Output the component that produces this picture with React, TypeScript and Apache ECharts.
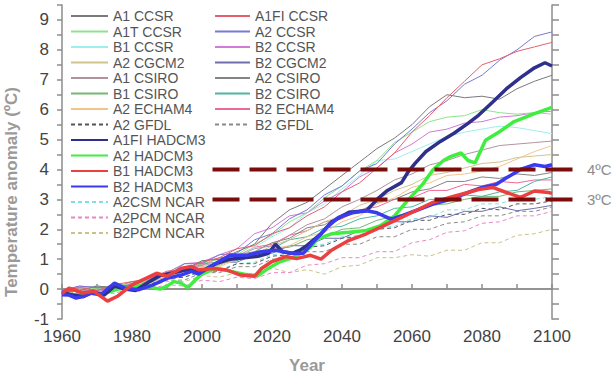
import React, { useEffect, useRef } from "react";
import * as echarts from "echarts";

const FONT = "'Liberation Sans', Arial, Helvetica, sans-serif";

// Five-yearly sampling used by the thin model runs
const YEARS = [1960, 1965, 1970, 1975, 1980, 1985, 1990, 1995, 2000, 2005, 2010, 2015, 2020, 2025, 2030, 2035, 2040, 2045, 2050, 2055, 2060, 2065, 2070, 2075, 2080, 2085, 2090, 2095, 2100];

const A1_CCSR = [-0.1, -0.05, 0.1, 0.05, 0.0, 0.3, 0.55, 0.65, 0.95, 1.0, 1.25, 1.5, 2.2, 2.65, 2.9, 3.35, 3.8, 4.25, 4.7, 5.05, 5.5, 6.1, 6.5, 6.4, 6.45, 6.35, 6.7, 6.95, 7.15];
const A1T_CCSR = [-0.1, 0.05, 0.0, 0.1, 0.2, 0.25, 0.55, 0.65, 0.85, 1.0, 1.15, 1.5, 1.8, 2.25, 2.55, 3.05, 3.45, 3.95, 4.3, 4.9, 5.25, 5.6, 5.75, 5.8, 6.0, 5.9, 5.85, 5.9, 5.85];
const B1_CCSR = [-0.1, 0.0, 0.1, -0.05, 0.1, 0.35, 0.4, 0.65, 0.7, 0.95, 1.05, 1.4, 1.75, 2.05, 2.55, 2.85, 3.35, 3.8, 4.3, 4.35, 4.6, 4.85, 5.1, 5.25, 5.35, 5.45, 5.4, 5.3, 5.2];
const A2_CGCM2 = [-0.1, 0.0, 0.05, 0.1, 0.15, 0.35, 0.4, 0.6, 0.75, 0.8, 1.05, 1.15, 1.45, 1.65, 1.95, 2.25, 2.45, 2.8, 3.0, 3.3, 3.5, 3.8, 3.9, 4.05, 4.2, 4.25, 4.4, 4.45, 4.5];
const A1_CSIRO = [-0.1, 0.05, 0.1, 0.0, 0.2, 0.25, 0.5, 0.6, 0.8, 0.85, 1.1, 1.35, 1.45, 1.8, 2.15, 2.35, 2.75, 3.0, 3.3, 3.65, 3.85, 4.15, 4.3, 4.5, 4.65, 4.8, 4.85, 4.9, 4.95];
const B1_CSIRO = [-0.1, -0.05, 0.1, 0.0, 0.15, 0.2, 0.45, 0.5, 0.75, 0.8, 1.05, 1.1, 1.35, 1.4, 1.65, 1.75, 2.0, 2.05, 2.3, 2.45, 2.55, 2.8, 2.85, 3.0, 3.1, 3.1, 3.25, 3.3, 3.35];
const A2_ECHAM4 = [-0.15, -0.05, 0.05, 0.05, 0.15, 0.2, 0.45, 0.5, 0.75, 0.75, 1.0, 1.05, 1.35, 1.45, 1.75, 1.9, 2.25, 2.45, 2.85, 3.05, 3.4, 3.55, 3.8, 3.85, 3.95, 4.1, 4.35, 4.6, 4.8];
const A2_GFDL = [-0.1, -0.05, 0.05, 0.0, 0.15, 0.15, 0.35, 0.4, 0.6, 0.6, 0.85, 0.85, 1.1, 1.15, 1.4, 1.45, 1.7, 1.75, 2.0, 2.05, 2.3, 2.3, 2.5, 2.5, 2.7, 2.65, 2.85, 2.85, 2.95];
const A2CSM_NCAR = [-0.1, 0.0, 0.1, 0.05, 0.15, 0.15, 0.4, 0.4, 0.6, 0.65, 0.85, 0.9, 1.15, 1.2, 1.45, 1.5, 1.75, 1.8, 2.05, 2.1, 2.35, 2.4, 2.65, 2.65, 2.85, 2.85, 3.05, 3.0, 3.1];
const A2PCM_NCAR = [-0.2, -0.15, -0.05, -0.15, 0.05, 0.0, 0.15, 0.1, 0.3, 0.25, 0.4, 0.35, 0.55, 0.55, 0.8, 0.85, 1.05, 1.05, 1.25, 1.25, 1.55, 1.65, 1.9, 1.95, 2.2, 2.25, 2.45, 2.45, 2.6];
const B2PCM_NCAR = [-0.15, -0.1, 0.0, -0.05, 0.1, 0.1, 0.25, 0.25, 0.45, 0.4, 0.55, 0.5, 0.7, 0.55, 0.65, 0.5, 0.75, 0.8, 1.05, 1.05, 1.15, 1.1, 1.3, 1.3, 1.55, 1.55, 1.8, 1.85, 2.0];
const A1FI_CCSR = [-0.1, 0.05, -0.05, 0.15, 0.25, 0.35, 0.6, 0.65, 0.9, 1.05, 1.35, 1.45, 1.85, 2.05, 2.45, 2.75, 3.25, 3.55, 4.05, 4.55, 5.25, 5.8, 6.4, 6.95, 7.5, 7.7, 7.95, 8.1, 8.25];
const A2_CCSR = [-0.05, 0.1, 0.05, 0.05, 0.15, 0.4, 0.55, 0.85, 0.85, 1.15, 1.2, 1.65, 1.85, 2.35, 2.65, 3.15, 3.45, 3.95, 4.2, 4.85, 5.35, 5.9, 6.3, 6.85, 7.15, 7.65, 8.0, 8.45, 8.6];
const B2_CCSR = [-0.05, 0.0, -0.1, 0.1, 0.15, 0.4, 0.45, 0.85, 0.9, 1.15, 1.35, 1.85, 2.05, 2.45, 2.55, 2.95, 3.25, 3.75, 4.05, 4.55, 4.85, 5.25, 5.35, 5.55, 5.6, 5.75, 5.8, 5.9, 5.95];
const B2_CGCM2 = [-0.1, 0.05, -0.05, 0.15, 0.1, 0.35, 0.4, 0.6, 0.65, 0.9, 0.9, 1.15, 1.2, 1.45, 1.45, 1.7, 1.7, 1.95, 2.0, 2.25, 2.25, 2.45, 2.4, 2.6, 2.6, 2.75, 2.62, 2.7, 2.8];
const A2_CSIRO = [-0.05, 0.05, 0.05, 0.05, 0.25, 0.3, 0.55, 0.6, 0.85, 0.9, 1.15, 1.25, 1.55, 1.7, 2.05, 2.15, 2.5, 2.6, 2.9, 3.0, 3.25, 3.35, 3.6, 3.6, 3.75, 3.7, 3.85, 3.8, 3.9];
const B2_CSIRO = [-0.1, 0.05, 0.0, 0.15, 0.1, 0.35, 0.4, 0.65, 0.65, 0.9, 0.95, 1.25, 1.35, 1.65, 1.75, 2.05, 2.1, 2.35, 2.45, 2.7, 2.75, 3.0, 3.0, 3.15, 3.1, 3.25, 3.3, 3.6, 3.75];
const B2_ECHAM4 = [-0.05, 0.1, 0.05, 0.1, 0.1, 0.4, 0.45, 0.75, 0.8, 1.05, 1.1, 1.4, 1.5, 1.8, 1.95, 2.25, 2.35, 2.65, 2.75, 3.0, 3.05, 3.3, 3.3, 3.5, 3.45, 3.6, 3.55, 3.65, 3.65];
const B2_GFDL = [-0.15, -0.1, 0.05, -0.05, 0.15, 0.1, 0.3, 0.3, 0.55, 0.55, 0.75, 0.75, 1.0, 1.0, 1.25, 1.25, 1.5, 1.5, 1.75, 1.75, 2.0, 2.0, 2.2, 2.25, 2.45, 2.45, 2.6, 2.6, 2.75];

// HadCM3 runs, sampled more densely
const A1FI_HADCM3_YEARS = [1960, 1963, 1966, 1969, 1972, 1975, 1978, 1981, 1985, 1988, 1992, 1996, 2000, 2004, 2008, 2012, 2016, 2019, 2021, 2023, 2026, 2028, 2030, 2034, 2037, 2042, 2047, 2050, 2053, 2057, 2059, 2061, 2064, 2068, 2072, 2076, 2079, 2083, 2087, 2091, 2095, 2098, 2100];
const A1FI_HADCM3 = [-0.1, -0.2, -0.25, -0.1, -0.2, 0.1, 0.0, -0.05, 0.25, 0.45, 0.55, 0.65, 0.6, 0.85, 1.0, 1.05, 1.1, 1.2, 1.5, 1.25, 1.2, 1.3, 1.46, 1.85, 2.24, 2.57, 2.62, 3.0, 3.3, 3.56, 3.94, 4.22, 4.6, 4.93, 5.21, 5.54, 5.81, 6.25, 6.7, 7.07, 7.4, 7.57, 7.46];

const A2_HADCM3_YEARS = [1960, 1964, 1968, 1972, 1976, 1980, 1984, 1986, 1988, 1990, 1992, 1994, 1996, 1998, 2000, 2004, 2008, 2012, 2016, 2019, 2022, 2026, 2029, 2031, 2033, 2037, 2042, 2047, 2051, 2055, 2059, 2063, 2066, 2069, 2071, 2074, 2076, 2078, 2081, 2085, 2089, 2095, 2100];
const A2_HADCM3 = [-0.15, -0.2, -0.1, -0.15, 0.0, 0.05, 0.15, 0.05, 0.0, 0.1, 0.25, 0.2, 0.05, 0.3, 0.5, 0.7, 0.6, 0.5, 0.45, 0.7, 0.9, 1.05, 1.25, 1.4, 1.68, 1.85, 1.9, 1.96, 2.12, 2.45, 3.0, 3.5, 3.99, 4.3, 4.43, 4.55, 4.3, 4.22, 4.98, 5.26, 5.59, 5.87, 6.08];

const B1_HADCM3_YEARS = [1960, 1962, 1966, 1969, 1973, 1976, 1980, 1984, 1987, 1990, 1994, 1997, 1999, 2003, 2007, 2011, 2015, 2017, 2020, 2024, 2027, 2031, 2034, 2037, 2042, 2047, 2052, 2057, 2061, 2066, 2071, 2076, 2079, 2083, 2087, 2091, 2095, 2099, 2100];
const B1_HADCM3 = [-0.15, 0.03, -0.13, -0.07, -0.4, -0.23, 0.14, 0.36, 0.53, 0.43, 0.69, 0.76, 0.64, 0.69, 0.64, 0.47, 0.43, 0.69, 0.92, 1.09, 1.02, 1.13, 1.0, 1.3, 1.63, 1.85, 2.12, 2.4, 2.62, 2.9, 3.07, 3.23, 3.33, 3.4, 3.23, 3.07, 3.28, 3.23, 3.2];

const B2_HADCM3_YEARS = [1960, 1962, 1964, 1966, 1968, 1971, 1975, 1978, 1982, 1986, 1990, 1994, 1997, 1999, 2003, 2008, 2013, 2017, 2021, 2026, 2029, 2032, 2036, 2039, 2043, 2047, 2050, 2054, 2057, 2061, 2066, 2071, 2076, 2080, 2084, 2087, 2091, 2095, 2098, 2100];
const B2_HADCM3 = [-0.19, -0.2, -0.3, -0.25, -0.13, -0.19, 0.2, 0.03, -0.02, 0.14, 0.36, 0.47, 0.59, 0.5, 0.8, 1.13, 1.13, 1.25, 1.3, 1.19, 1.2, 1.6, 2.1, 2.4, 2.55, 2.62, 2.55, 2.34, 2.45, 2.62, 2.84, 3.0, 3.23, 3.4, 3.5, 3.72, 4.0, 4.16, 4.1, 4.16];

// Warming thresholds drawn as dashed guides
const THRESHOLDS = [4, 3];
const THRESHOLD_LABELS = ["4ºC", "3ºC"];
const THRESHOLD_FROM = 2003;
const THRESHOLD_TO = 2106;

const LEGEND_LEFT = ["A1 CCSR", "A1T CCSR", "B1 CCSR", "A2 CGCM2", "A1 CSIRO", "B1 CSIRO", "A2 ECHAM4", "A2 GFDL", "A1FI HADCM3", "A2 HADCM3", "B1 HADCM3", "B2 HADCM3", "A2CSM NCAR", "A2PCM NCAR", "B2PCM NCAR"];
const LEGEND_RIGHT = ["A1FI CCSR", "A2 CCSR", "B2 CCSR", "B2 CGCM2", "A2 CSIRO", "B2 CSIRO", "B2 ECHAM4", "B2 GFDL"];

type Run = { name: string; color: string; years: number[]; values: number[]; width: number; dash?: number[]; z?: number };

const DASH = [4, 3];

const RUNS: Run[] = [
  { name: "B2PCM NCAR", color: "#c9c08a", years: YEARS, values: B2PCM_NCAR, width: 1, dash: DASH },
  { name: "A2PCM NCAR", color: "#ec85c6", years: YEARS, values: A2PCM_NCAR, width: 1, dash: DASH },
  { name: "A2CSM NCAR", color: "#7fe0e0", years: YEARS, values: A2CSM_NCAR, width: 1, dash: DASH },
  { name: "B2 GFDL", color: "#8a8a8a", years: YEARS, values: B2_GFDL, width: 1, dash: DASH },
  { name: "A2 GFDL", color: "#555555", years: YEARS, values: A2_GFDL, width: 1, dash: DASH },
  { name: "B2 CGCM2", color: "#6f6fb0", years: YEARS, values: B2_CGCM2, width: 1 },
  { name: "B1 CSIRO", color: "#74b874", years: YEARS, values: B1_CSIRO, width: 1 },
  { name: "B2 ECHAM4", color: "#ee6a96", years: YEARS, values: B2_ECHAM4, width: 1 },
  { name: "B2 CSIRO", color: "#4fb5a4", years: YEARS, values: B2_CSIRO, width: 1 },
  { name: "A2 CSIRO", color: "#858585", years: YEARS, values: A2_CSIRO, width: 1 },
  { name: "A2 CGCM2", color: "#cfc58c", years: YEARS, values: A2_CGCM2, width: 1 },
  { name: "A2 ECHAM4", color: "#f3c48a", years: YEARS, values: A2_ECHAM4, width: 1 },
  { name: "A1 CSIRO", color: "#b3929f", years: YEARS, values: A1_CSIRO, width: 1 },
  { name: "B1 CCSR", color: "#9eeeee", years: YEARS, values: B1_CCSR, width: 1 },
  { name: "B2 CCSR", color: "#d27ad8", years: YEARS, values: B2_CCSR, width: 1 },
  { name: "A1T CCSR", color: "#8fe28f", years: YEARS, values: A1T_CCSR, width: 1 },
  { name: "A1 CCSR", color: "#7a7a7a", years: YEARS, values: A1_CCSR, width: 1 },
  { name: "A2 CCSR", color: "#7a78d6", years: YEARS, values: A2_CCSR, width: 1 },
  { name: "A1FI CCSR", color: "#e4606e", years: YEARS, values: A1FI_CCSR, width: 1 },
  { name: "A2 HADCM3", color: "#3fef3f", years: A2_HADCM3_YEARS, values: A2_HADCM3, width: 3.5, z: 3 },
  { name: "A1FI HADCM3", color: "#2f2f8c", years: A1FI_HADCM3_YEARS, values: A1FI_HADCM3, width: 3.5, z: 3 },
  { name: "B2 HADCM3", color: "#3a3aef", years: B2_HADCM3_YEARS, values: B2_HADCM3, width: 3.5, z: 3 },
  { name: "B1 HADCM3", color: "#ec3f3f", years: B1_HADCM3_YEARS, values: B1_HADCM3, width: 3.5, z: 3 },
];

const AXIS_COLOR = "#8c8c8c";

function legendColumn(names: string[], left: number, itemWidth: number) {
  return {
    orient: "vertical",
    left,
    top: 9,
    padding: 0,
    itemGap: 1.5,
    itemWidth,
    itemHeight: 10,
    selectedMode: false,
    data: names,
    // legend keys show only the line stroke, no marker
    itemStyle: { opacity: 0 },
    textStyle: { color: "#555", fontSize: 14, fontFamily: FONT },
  };
}

export default function App() {
  const ref = useRef<HTMLDivElement>(null);

  useEffect(() => {
    if (!ref.current) return;
    const chart = echarts.init(ref.current, null, { renderer: "svg" });

    const series = RUNS.map((r) => ({
      type: "line",
      name: r.name,
      data: r.years.map((y, i) => [y, r.values[i]]),
      showSymbol: false,
      symbol: "none",
      silent: true,
      z: r.z ?? 2,
      itemStyle: { color: r.color },
      lineStyle: { color: r.color, width: r.width, type: r.dash ?? "solid" },
      emphasis: { disabled: true },
    }));

    chart.setOption({
      animation: false,
      backgroundColor: "#ffffff",
      grid: { left: 62, right: 64, top: 5, bottom: 57 },
      legend: [legendColumn(LEGEND_LEFT, 70, 37), legendColumn(LEGEND_RIGHT, 214, 35)],
      xAxis: [
        {
          type: "value",
          min: 1960,
          max: 2100,
          interval: 10,
          position: "bottom",
          axisLine: { lineStyle: { color: AXIS_COLOR, width: 1.5 } },
          axisTick: { inside: true, length: 5, lineStyle: { color: AXIS_COLOR, width: 1.5 } },
          axisLabel: {
            formatter: (v: number) => (v % 20 === 0 ? String(v) : ""),
            color: "#444",
            fontSize: 17,
            fontFamily: FONT,
            margin: 9,
          },
          splitLine: { show: false },
          name: "Year",
          nameLocation: "middle",
          nameGap: 38,
          nameTextStyle: { color: "#9a9a9a", fontSize: 17, fontWeight: "bold", fontFamily: FONT },
        },
        {
          type: "value",
          min: 1960,
          max: 2100,
          position: "top",
          axisLine: { lineStyle: { color: AXIS_COLOR, width: 1.5 } },
          axisTick: { show: false },
          axisLabel: { show: false },
          splitLine: { show: false },
        },
      ],
      yAxis: [
        {
          type: "value",
          min: -1,
          max: 9.5,
          interval: 0.5,
          position: "left",
          axisLine: { show: true, lineStyle: { color: AXIS_COLOR, width: 1.5 } },
          axisTick: { show: true, length: 5, lineStyle: { color: AXIS_COLOR, width: 1.5 } },
          axisLabel: {
            formatter: (v: number) => (Number.isInteger(v) ? String(v) : ""),
            color: "#444",
            fontSize: 17,
            fontFamily: FONT,
            margin: 13,
          },
          splitLine: { show: false },
        },
        {
          type: "value",
          min: -1,
          max: 9.5,
          interval: 0.5,
          position: "right",
          axisLine: { show: true, lineStyle: { color: AXIS_COLOR, width: 1.5 } },
          axisTick: { show: true, length: 7, lineStyle: { color: AXIS_COLOR, width: 1.5 } },
          axisLabel: { show: false },
          splitLine: { show: false },
        },
      ],
      series,
    });

    // Threshold guides extend past the right frame, so they are placed via the axis scales
    const graphics: any[] = [
      {
        type: "text",
        x: 11,
        y: 192,
        rotation: Math.PI / 2,
        style: {
          text: "Temperature anomaly (ºC)",
          font: `bold 17px ${FONT}`,
          fill: "#9a9a9a",
          align: "center",
          verticalAlign: "middle",
        },
      },
    ];
    THRESHOLDS.forEach((t, i) => {
      const a = chart.convertToPixel({ xAxisIndex: 0, yAxisIndex: 0 }, [THRESHOLD_FROM, t]) as number[];
      const b = chart.convertToPixel({ xAxisIndex: 0, yAxisIndex: 0 }, [THRESHOLD_TO, t]) as number[];
      graphics.push({
        type: "line",
        z: 20,
        shape: { x1: a[0], y1: a[1], x2: b[0], y2: b[1] },
        style: { stroke: "#7a0c0c", lineWidth: 4, lineDash: [27, 10] },
      });
      graphics.push({
        type: "text",
        z: 20,
        x: b[0] + 14,
        y: b[1],
        style: {
          text: THRESHOLD_LABELS[i],
          font: `15px ${FONT}`,
          fill: "#8c8c8c",
          verticalAlign: "middle",
        },
      });
    });
    chart.setOption({ graphic: graphics });

    return () => chart.dispose();
  }, []);

  return (
    <div
      ref={ref}
      style={{ position: "fixed", left: 0, top: 0, width: 616, height: 379, background: "#fff" }}
    />
  );
}
